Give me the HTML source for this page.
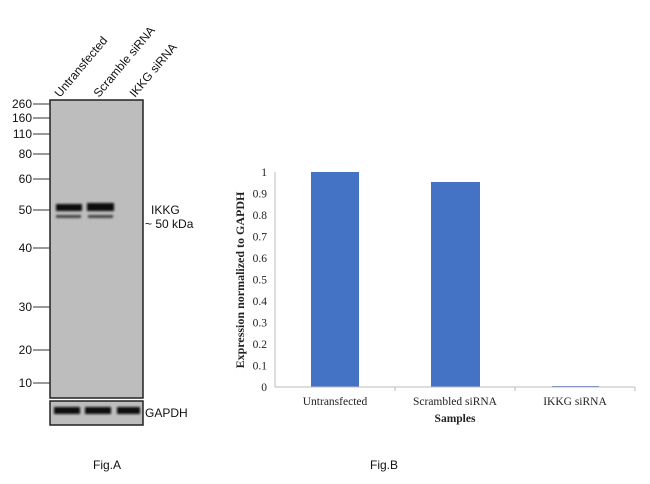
<!DOCTYPE html>
<html><head><style>
body{margin:0;width:650px;height:479px;background:#fff;overflow:hidden}
</style></head><body>
<svg width="650" height="479" xmlns="http://www.w3.org/2000/svg">
<defs><filter id="b"><feGaussianBlur stdDeviation="1"/></filter></defs>
<g font-family="Liberation Sans, sans-serif" font-size="12" fill="#111">
<text transform="translate(60,98) rotate(-50)">Untransfected</text>
<text transform="translate(99,98) rotate(-50)">Scramble siRNA</text>
<text transform="translate(135,98) rotate(-50)">IKKG siRNA</text>
</g>
<rect x="50" y="100" width="93" height="298" fill="#bdbdbd" stroke="#222" stroke-width="1.5"/>
<rect x="50" y="401" width="93" height="24" fill="#bdbdbd" stroke="#222" stroke-width="1.5"/>
<g filter="url(#b)" fill="#111">
<rect x="56" y="204" width="26" height="7"/><rect x="56" y="215" width="25" height="3" fill="#444"/>
<rect x="87" y="203" width="27" height="8"/><rect x="88" y="215" width="25" height="3" fill="#444"/>
<rect x="54" y="407" width="26" height="7"/><rect x="85" y="407" width="26" height="7"/><rect x="117" y="407" width="23" height="7"/>
</g>
<g stroke="#333" stroke-width="1">
<line x1="33" y1="104" x2="50" y2="104"/><line x1="33" y1="118" x2="50" y2="118"/><line x1="33" y1="134" x2="50" y2="134"/>
<line x1="33" y1="154" x2="50" y2="154"/><line x1="33" y1="179" x2="50" y2="179"/><line x1="33" y1="210" x2="50" y2="210"/>
<line x1="33" y1="248" x2="50" y2="248"/><line x1="33" y1="307" x2="50" y2="307"/><line x1="33" y1="350" x2="50" y2="350"/>
<line x1="33" y1="383" x2="50" y2="383"/>
</g>
<g font-family="Liberation Sans, sans-serif" font-size="12" fill="#111" text-anchor="end">
<text x="32" y="108">260</text><text x="32" y="122">160</text><text x="32" y="138">110</text>
<text x="32" y="158">80</text><text x="32" y="183">60</text><text x="32" y="214">50</text>
<text x="32" y="252">40</text><text x="32" y="311">30</text><text x="32" y="354">20</text><text x="32" y="387">10</text>
</g>
<g font-family="Liberation Sans, sans-serif" font-size="12" fill="#111">
<text x="151" y="214">IKKG</text><text x="145" y="228">~ 50 kDa</text>
<text x="145" y="417">GAPDH</text>
<text x="93" y="469">Fig.A</text><text x="370" y="469">Fig.B</text>
</g>
<g fill="#4472c4">
<rect x="311" y="172" width="48" height="215"/>
<rect x="431" y="182" width="49" height="205"/>
<rect x="552" y="386" width="47" height="1.5"/>
</g>
<g stroke="#bbb" stroke-width="1">
<line x1="275" y1="172" x2="275" y2="387"/><line x1="275" y1="387" x2="635" y2="387"/>
<line x1="395" y1="387" x2="395" y2="391"/><line x1="515" y1="387" x2="515" y2="391"/><line x1="635" y1="387" x2="635" y2="391"/>
</g>
<g font-family="Liberation Serif, serif" font-size="11.5" fill="#222" text-anchor="end">
<text x="267" y="176">1</text><text x="267" y="197.5">0.9</text><text x="267" y="219">0.8</text>
<text x="267" y="240.5">0.7</text><text x="267" y="262">0.6</text><text x="267" y="283.5">0.5</text>
<text x="267" y="305">0.4</text><text x="267" y="326.5">0.3</text><text x="267" y="348">0.2</text>
<text x="267" y="369.5">0.1</text><text x="267" y="391">0</text>
</g>
<g font-family="Liberation Serif, serif" font-size="11.5" fill="#222" text-anchor="middle">
<text x="335" y="405">Untransfected</text><text x="455" y="405">Scrambled siRNA</text><text x="575" y="405">IKKG siRNA</text>
<text x="455" y="422" font-weight="bold">Samples</text>
<text transform="translate(244,280) rotate(-90)" font-weight="bold" font-size="12">Expression normalized to GAPDH</text>
</g>
</svg>
</body></html>
